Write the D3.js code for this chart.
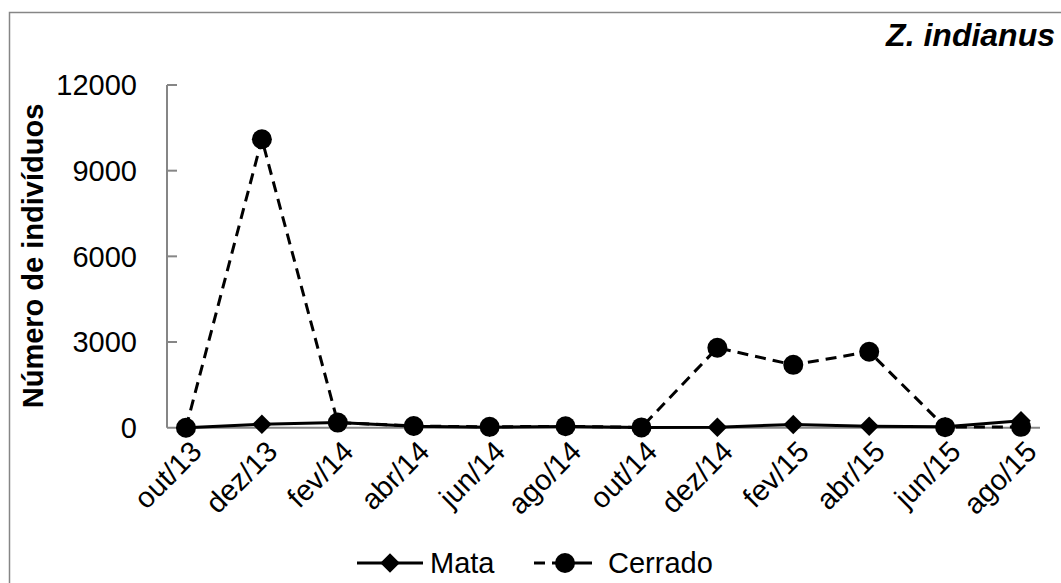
<!DOCTYPE html>
<html>
<head>
<meta charset="utf-8">
<script src="https://cdn.jsdelivr.net/npm/d3@7"></script>
<style>
  html, body { margin: 0; padding: 0; background: #fff; }
  svg { display: block; font-family: Arial, "Liberation Sans", sans-serif; }
</style>
</head>
<body>
<svg id="chart" width="1061" height="583"></svg>
<script>
// Sampling months
const months = ["out/13", "dez/13", "fev/14", "abr/14", "jun/14", "ago/14",
                "out/14", "dez/14", "fev/15", "abr/15", "jun/15", "ago/15"];
// Number of individuals per habitat
const mata    = [0, 120, 180, 50, 20, 40, 10, 20, 110, 50, 30, 240];
const cerrado = [0, 10100, 180, 60, 30, 50, 10, 2800, 2200, 2660, 20, 30];
// Y axis ticks
const yTicks = [0, 3000, 6000, 9000, 12000];

const svg = d3.select("#chart");
const axisGray = "#868686";

// Outer frame (open at right and bottom edges)
svg.append("path")
  .attr("d", "M9.5,600 L9.5,12.5 L1080,12.5")
  .attr("fill", "none")
  .attr("stroke", axisGray)
  .attr("stroke-width", 1.5);

const x = d3.scalePoint().domain(months).range([167, 1040]).padding(0.25);
const y = d3.scaleLinear().domain([0, 12000]).range([427.7, 85]);

// Y axis line and inward ticks
svg.append("line")
  .attr("x1", 167).attr("x2", 167)
  .attr("y1", y(12000)).attr("y2", y(0))
  .attr("stroke", axisGray).attr("stroke-width", 2);
svg.append("g").selectAll("line").data(yTicks.filter(d => d > 0)).join("line")
  .attr("x1", 167).attr("x2", 177)
  .attr("y1", d => y(d)).attr("y2", d => y(d))
  .attr("stroke", axisGray).attr("stroke-width", 2);

// X axis line
svg.append("line")
  .attr("x1", 167).attr("x2", 1040)
  .attr("y1", y(0)).attr("y2", y(0))
  .attr("stroke", axisGray).attr("stroke-width", 2);

// Y tick labels
svg.append("g").selectAll("text").data(yTicks).join("text")
  .attr("x", 137)
  .attr("y", d => y(d))
  .attr("dy", "0.36em")
  .attr("text-anchor", "end")
  .attr("font-size", 29)
  .attr("fill", "#000")
  .text(d => d);

// X tick labels, rotated
svg.append("g").selectAll("text").data(months).join("text")
  .attr("transform", d => `translate(${x(d) + 10},${446}) rotate(-45)`)
  .attr("text-anchor", "end")
  .attr("dy", "0.36em")
  .attr("font-size", 29)
  .attr("fill", "#000")
  .text(d => d);

// Y axis title
svg.append("text")
  .attr("transform", "translate(33,256) rotate(-90)")
  .attr("text-anchor", "middle")
  .attr("dy", "0.36em")
  .attr("font-size", 29)
  .attr("font-weight", "bold")
  .text("Número de indivíduos");

// Species title
svg.append("text")
  .attr("x", 1055).attr("y", 46)
  .attr("text-anchor", "end")
  .attr("font-size", 32)
  .attr("font-weight", "bold")
  .attr("font-style", "italic")
  .text("Z. indianus");

const line = d3.line().x((d, i) => x(months[i])).y(d => y(d));

// Cerrado dashed line
svg.append("path")
  .datum(cerrado)
  .attr("d", line)
  .attr("fill", "none")
  .attr("stroke", "#000")
  .attr("stroke-width", 3)
  .attr("stroke-dasharray", "11,7");

// Mata solid line
svg.append("path")
  .datum(mata)
  .attr("d", line)
  .attr("fill", "none")
  .attr("stroke", "#000")
  .attr("stroke-width", 3);

const diamond = d3.symbol().type(d3.symbolSquare).size(190);

// Mata markers
svg.append("g").selectAll("path").data(mata).join("path")
  .attr("transform", (d, i) => `translate(${x(months[i])},${y(d)}) rotate(45)`)
  .attr("d", diamond)
  .attr("fill", "#000");

// Cerrado markers
svg.append("g").selectAll("circle").data(cerrado).join("circle")
  .attr("cx", (d, i) => x(months[i]))
  .attr("cy", d => y(d))
  .attr("r", 10)
  .attr("fill", "#000");

// Legend
const leg = svg.append("g");
const ly = 563;
leg.append("line").attr("x1", 357).attr("x2", 423).attr("y1", ly).attr("y2", ly)
  .attr("stroke", "#000").attr("stroke-width", 3);
leg.append("path")
  .attr("transform", `translate(390,${ly}) rotate(45)`)
  .attr("d", diamond)
  .attr("fill", "#000");
leg.append("text").attr("x", 430).attr("y", ly).attr("dy", "0.36em")
  .attr("font-size", 29).text("Mata");

leg.append("line").attr("x1", 534).attr("x2", 545).attr("y1", ly).attr("y2", ly)
  .attr("stroke", "#000").attr("stroke-width", 3);
leg.append("line").attr("x1", 552).attr("x2", 592).attr("y1", ly).attr("y2", ly)
  .attr("stroke", "#000").attr("stroke-width", 3);
leg.append("circle").attr("cx", 565).attr("cy", ly).attr("r", 10).attr("fill", "#000");
leg.append("text").attr("x", 608).attr("y", ly).attr("dy", "0.36em")
  .attr("font-size", 29).text("Cerrado");
</script>
</body>
</html>
